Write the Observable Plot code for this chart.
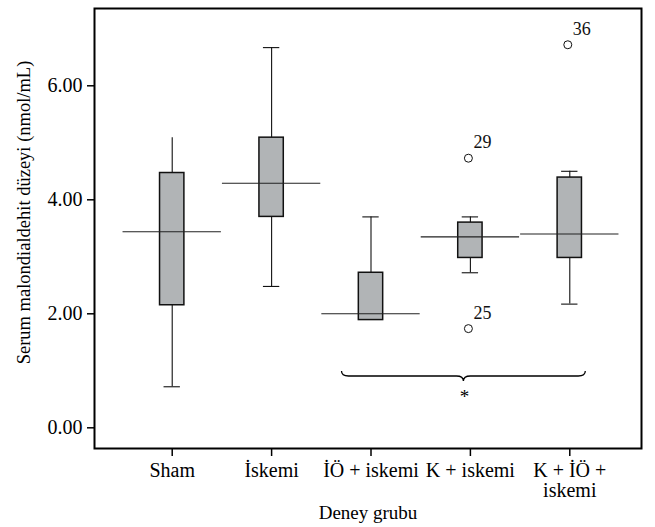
<!DOCTYPE html>
<html><head><meta charset="utf-8">
<script src="https://cdn.jsdelivr.net/npm/d3@7"></script>
<script src="https://cdn.jsdelivr.net/npm/@observablehq/plot@0.6"></script>
<style>body{margin:0;background:#fff} #chart svg{display:block}</style>
</head><body><div id="chart"></div>
<script>
const groups = ["Sham", "İskemi", "İÖ + iskemi", "K + iskemi", "K + İÖ + iskemi"];
const tickLabels = ["Sham", "İskemi", "İÖ + iskemi", "K + iskemi", "K + İÖ +\niskemi"];
const whiskerLow = [0.72, 2.48, 1.89, 2.72, 2.17];
const q1 = [2.15, 3.70, 1.89, 2.98, 2.98];
const median = [3.44, 4.29, 2.00, 3.35, 3.40];
const q3 = [4.47, 5.09, 2.72, 3.60, 4.39];
const whiskerHigh = [5.09, 6.67, 3.70, 3.70, 4.50];
const capHigh = [false, true, true, true, true];
const capLow = [true, true, false, true, true];

const outlierGroup = ["K + iskemi", "K + iskemi", "K + İÖ + iskemi"];
const outlierValue = [4.73, 1.74, 6.72];
const outlierId = ["29", "25", "36"];

const yTicks = [0, 2, 4, 6];
const xTitle = "Deney grubu";
const yTitle = "Serum malondialdehit düzeyi (nmol/mL)";
const braceFrom = "İÖ + iskemi";
const braceTo = "K + İÖ + iskemi";
const braceValue = 0.9;
const braceLabel = "*";

const rows = groups.map((g, i) => ({group: g, lo: whiskerLow[i], q1: q1[i], med: median[i], q3: q3[i], hi: whiskerHigh[i], capHi: capHigh[i], capLo: capLow[i]}));
const outliers = outlierGroup.map((g, i) => ({group: g, value: outlierValue[i], id: outlierId[i]}));

const font = "'Liberation Serif', 'Times New Roman', serif";

function braceMark(...args) {
  const scales = args.find(a => a && typeof a.x === "function" && typeof a.y === "function");
  const x = scales.x, y = scales.y;
  const bw = typeof x.bandwidth === "function" ? x.bandwidth() : 0;
  const x0 = x(braceFrom) + bw / 2 - 29;
  const x1 = x(braceTo) + bw / 2 + 16;
  const xm = (x0 + x1) / 2;
  const yh = y(braceValue);
  const yt = yh - 5, yp = yh + 5;
  const c = 7;
  const g = d3.create("svg:g");
  g.append("path")
    .attr("fill", "none").attr("stroke", "#000").attr("stroke-width", 1.3)
    .attr("d", `M${x0},${yt} Q${x0},${yh} ${x0 + c},${yh} L${xm - c},${yh} Q${xm},${yh} ${xm},${yp} Q${xm},${yh} ${xm + c},${yh} L${x1 - c},${yh} Q${x1},${yh} ${x1},${yt}`);
  g.append("text")
    .attr("x", xm + 1).attr("y", yh + 27)
    .attr("text-anchor", "middle")
    .attr("font-family", font).attr("font-size", 19)
    .text(braceLabel);
  return g.node();
}

const chart = Plot.plot({
  width: 655, height: 527,
  marginLeft: 94, marginRight: 14, marginTop: 8, marginBottom: 79,
  style: {fontFamily: font, fontSize: "20px", color: "#000", background: "#fff"},
  x: {type: "band", domain: groups, paddingInner: 0.755, paddingOuter: 0.599, insetLeft: 6, round: false, label: null, axis: null},
  y: {domain: [-0.363, 7.356], label: null, axis: null},
  marks: [
    Plot.ruleX(rows, {x: "group", y1: "lo", y2: "q1", stroke: "#111", strokeWidth: 1.1}),
    Plot.ruleX(rows, {x: "group", y1: "q3", y2: "hi", stroke: "#111", strokeWidth: 1.1}),
    Plot.tickY(rows.filter(d => d.capHi), {x: "group", y: "hi", stroke: "#111", strokeWidth: 1.1, insetLeft: 4, insetRight: 4}),
    Plot.tickY(rows.filter(d => d.capLo), {x: "group", y: "lo", stroke: "#111", strokeWidth: 1.1, insetLeft: 4, insetRight: 4}),
    Plot.barY(rows, {x: "group", y1: "q1", y2: "q3", fill: "#b1b4b6", stroke: "#111", strokeWidth: 1.5}),
    Plot.tickY(rows, {x: "group", y: "med", stroke: "#222", strokeWidth: 1.1, insetLeft: -37, insetRight: -37}),
    Plot.dot(outliers, {x: "group", y: "value", r: 4, fill: "#fff", stroke: "#111", strokeWidth: 1, dx: -2}),
    Plot.text(outliers, {x: "group", y: "value", text: "id", textAnchor: "start", lineAnchor: "bottom", dx: 3, dy: -10, fontSize: 18, fill: "#111"}),
    braceMark,
    Plot.frame({stroke: "#000", strokeWidth: 2}),
    Plot.axisY({ticks: yTicks, tickFormat: d3.format(".2f"), tickSize: 7, tickPadding: 5, label: null, fontSize: 20, strokeWidth: 1.5}),
    Plot.axisX({tickSize: 8, tickPadding: 6, tickFormat: d => tickLabels[groups.indexOf(d)], label: null, fontSize: 20, strokeWidth: 1.5}),
    Plot.text([xTitle], {frameAnchor: "bottom", textAnchor: "middle", lineAnchor: "middle", dy: 64, fontSize: 19, fill: "#000"}),
    Plot.text([yTitle], {frameAnchor: "left", rotate: -90, textAnchor: "middle", lineAnchor: "middle", dx: -70, dy: -16, fontSize: 18.5, fill: "#000"})
  ]
});
document.getElementById("chart").appendChild(chart);
</script>
</body></html>
